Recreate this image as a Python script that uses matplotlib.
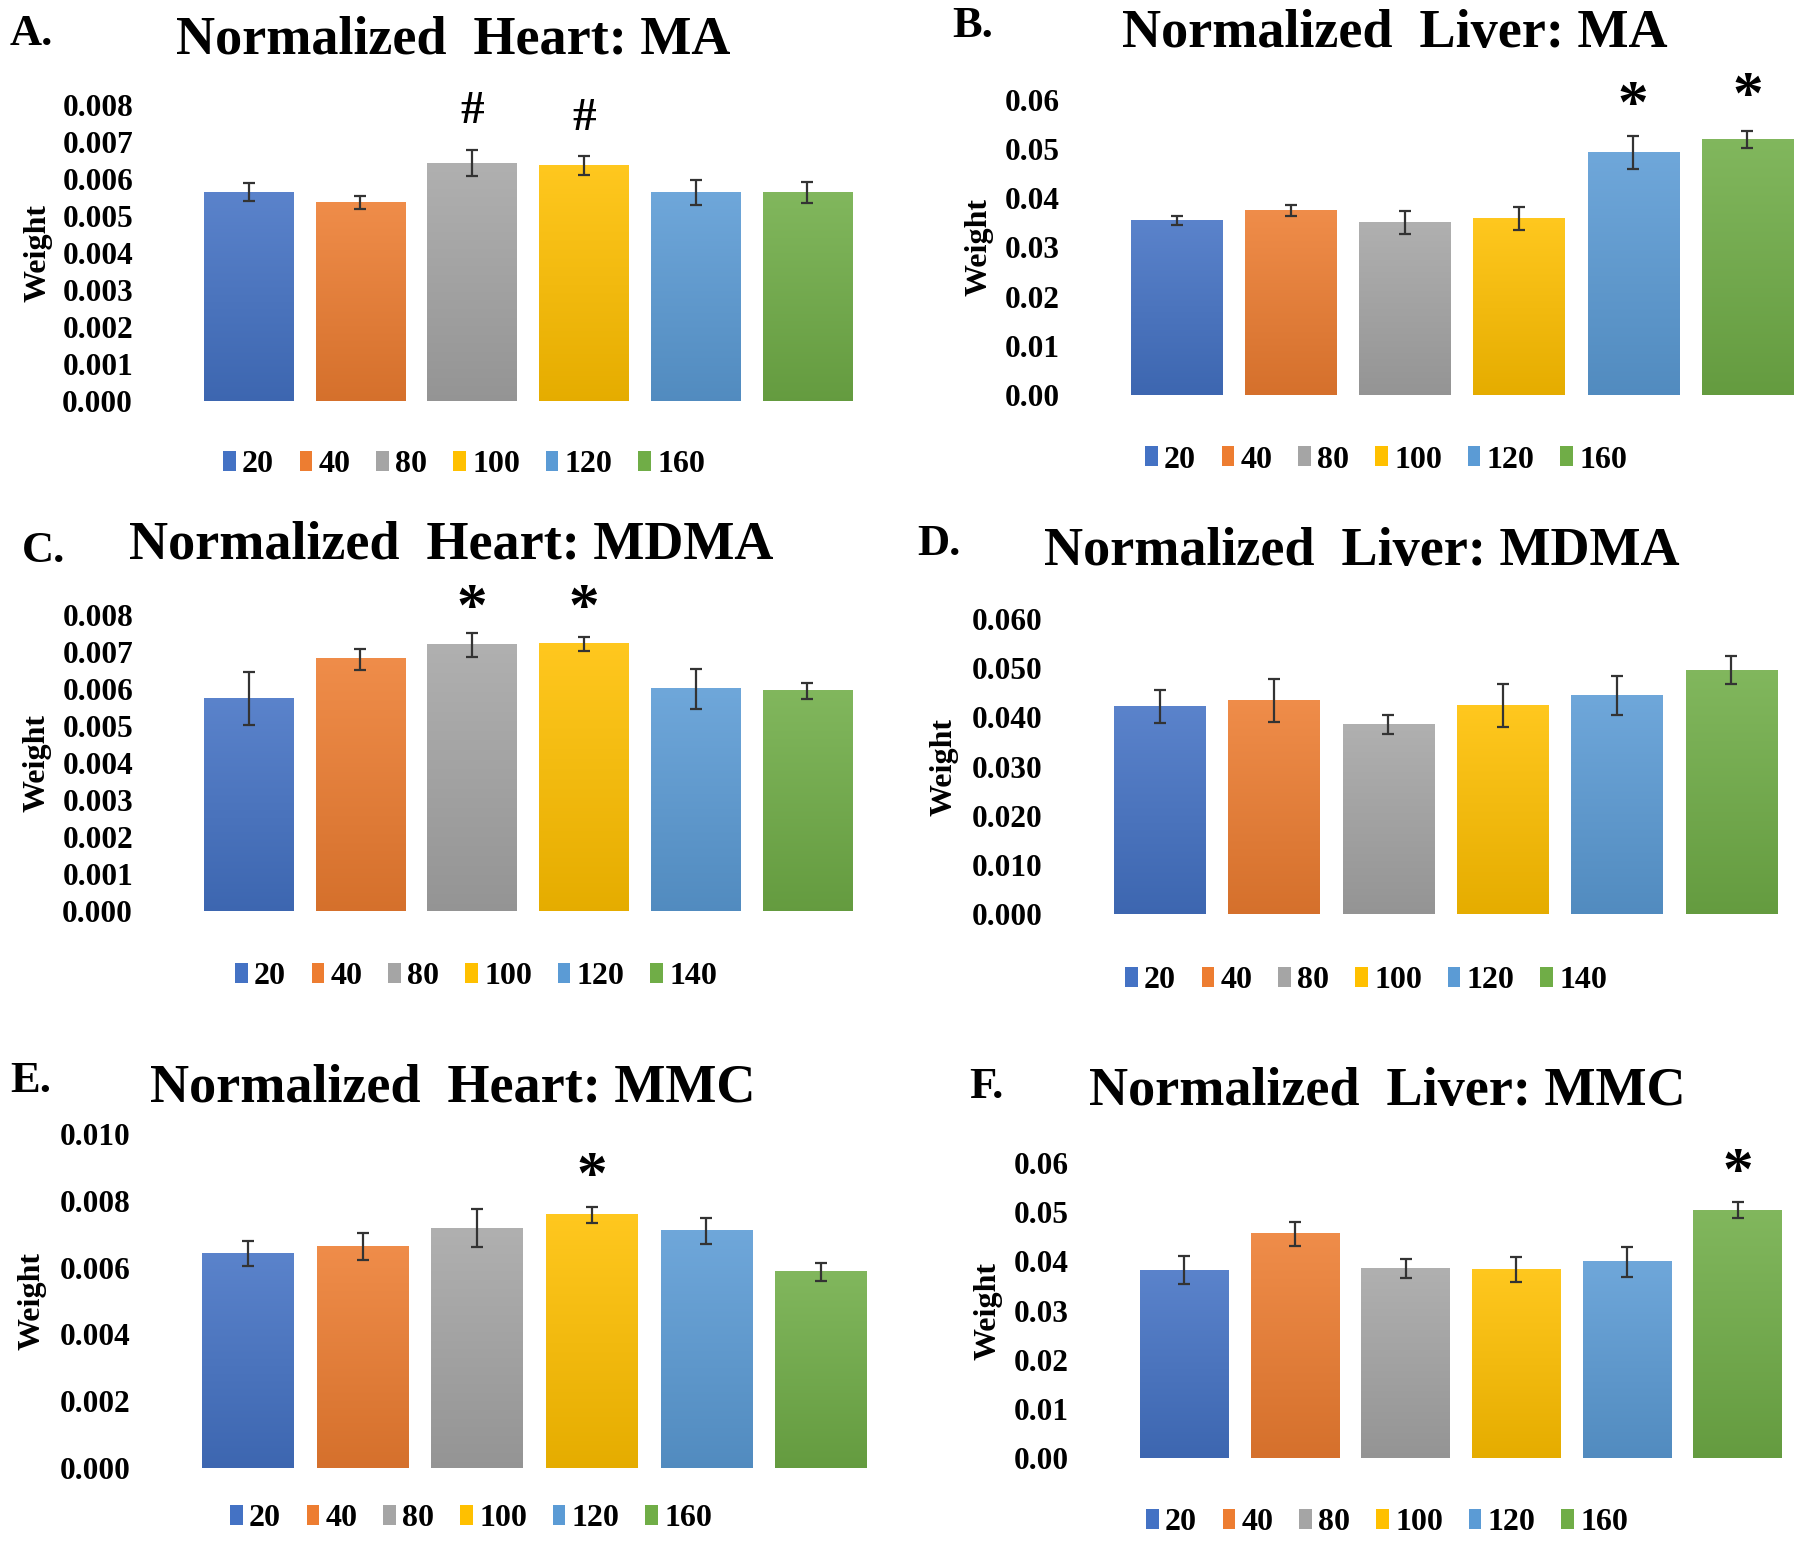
import matplotlib
matplotlib.use('Agg')
import matplotlib.pyplot as plt
from matplotlib.patches import Patch
import matplotlib.colors as mcolors
import numpy as np

plt.rcParams['font.family'] = ['Liberation Serif', 'DejaVu Serif']
plt.rcParams['font.weight'] = 'bold'

# doses (legend labels)
doses_160 = ['20', '40', '80', '100', '120', '160']
doses_140 = ['20', '40', '80', '100', '120', '140']

# values
heart_ma = [0.00563, 0.00535, 0.00642, 0.00635, 0.00563, 0.00563]
heart_ma_err = [0.00024, 0.00018, 0.00035, 0.00025, 0.00033, 0.00029]
liver_ma = [0.0355, 0.0376, 0.0351, 0.0359, 0.0493, 0.0519]
liver_ma_err = [0.0009, 0.0011, 0.0023, 0.0024, 0.0033, 0.0017]
heart_mdma = [0.00574, 0.00680, 0.00720, 0.00721, 0.00601, 0.00595]
heart_mdma_err = [0.00071, 0.00029, 0.00032, 0.00019, 0.00054, 0.00022]
liver_mdma = [0.0422, 0.0434, 0.0386, 0.0424, 0.0444, 0.0496]
liver_mdma_err = [0.0033, 0.0043, 0.0019, 0.0043, 0.0040, 0.0029]
heart_mmc = [0.00642, 0.00663, 0.00718, 0.00758, 0.00710, 0.00587]
heart_mmc_err = [0.00037, 0.00040, 0.00056, 0.00024, 0.00040, 0.00027]
liver_mmc = [0.0382, 0.0456, 0.0386, 0.0383, 0.0399, 0.0504]
liver_mmc_err = [0.0029, 0.0024, 0.0019, 0.0026, 0.0030, 0.0016]

# significance marks: (bar index, symbol, y value)
marks_heart_ma = [(2, '#', 0.0078), (3, '#', 0.00762)]
marks_liver_ma = [(4, '*', 0.0586), (5, '*', 0.0604)]
marks_heart_mdma = [(2, '*', 0.00814), (3, '*', 0.00814)]
marks_liver_mdma = []
marks_heart_mmc = [(3, '*', 0.00868)]
marks_liver_mmc = [(5, '*', 0.0578)]

colors = ['#4472C4', '#ED7D31', '#A5A5A5', '#FFC000', '#5B9BD5', '#70AD47']

W, H = 1800, 1544
fig = plt.figure(figsize=(W / 100, H / 100), dpi=100)

# panel layout in pixels: bars left/right, axis bottom, top tick y, etc.
panels = [
    dict(letter='A.', title='Normalized  Heart: MA', vals=heart_ma, err=heart_ma_err,
         marks=marks_heart_ma, doses=doses_160, ticks=np.arange(0, 0.0081, 0.001), fmt='{:.3f}',
         bl=204, br=852, bot=401, top=104.5, tx=453, ty=40, lx=10, ly=34, leg=(464, 465), wx=38),
    dict(letter='B.', title='Normalized  Liver: MA', vals=liver_ma, err=liver_ma_err,
         marks=marks_liver_ma, doses=doses_160, ticks=np.arange(0, 0.061, 0.01), fmt='{:.2f}',
         bl=1131, br=1793, bot=395, top=100, tx=1395, ty=34, lx=952, ly=26, leg=(1386, 460), wx=979),
    dict(letter='C.', title='Normalized  Heart: MDMA', vals=heart_mdma, err=heart_mdma_err,
         marks=marks_heart_mdma, doses=doses_140, ticks=np.arange(0, 0.0081, 0.001), fmt='{:.3f}',
         bl=204, br=852, bot=911.5, top=615, tx=451, ty=546, lx=22, ly=551, leg=(476, 977), wx=37),
    dict(letter='D.', title='Normalized  Liver: MDMA', vals=liver_mdma, err=liver_mdma_err,
         marks=marks_liver_mdma, doses=doses_140, ticks=np.arange(0, 0.061, 0.01), fmt='{:.3f}',
         bl=1114, br=1777, bot=914, top=619, tx=1362, ty=552, lx=917, ly=544, leg=(1366, 981), wx=944),
    dict(letter='E.', title='Normalized  Heart: MMC', vals=heart_mmc, err=heart_mmc_err,
         marks=marks_heart_mmc, doses=doses_160, ticks=np.arange(0, 0.0101, 0.002), fmt='{:.3f}',
         bl=202, br=867, bot=1468, top=1134, tx=453, ty=1089, lx=10, ly=1081, leg=(471, 1519), wx=32),
    dict(letter='F.', title='Normalized  Liver: MMC', vals=liver_mmc, err=liver_mmc_err,
         marks=marks_liver_mmc, doses=doses_160, ticks=np.arange(0, 0.061, 0.01), fmt='{:.2f}',
         bl=1140, br=1782, bot=1458, top=1163, tx=1387, ty=1092, lx=969, ly=1087, leg=(1387, 1523), wx=988),
]


def gradient(c, n=64):
    rgb = np.array(mcolors.to_rgb(c))
    top = rgb + (1 - rgb) * 0.12
    bottom = rgb * 0.9
    t = np.linspace(0, 1, n)[:, None]
    return (top * (1 - t) + bottom * t)[:, None, :]


for p in panels:
    unit = (p['br'] - p['bl']) / 5.8
    left = p['bl'] - 0.1 * unit
    right = p['br'] + 0.1 * unit
    ax = fig.add_axes([left / W, 1 - p['bot'] / H, (right - left) / W, (p['bot'] - p['top']) / H])
    x = np.arange(len(p['vals']))
    for i, (v, c) in enumerate(zip(p['vals'], colors)):
        ax.imshow(gradient(c), extent=(i - 0.4, i + 0.4, 0, v), aspect='auto',
                  interpolation='bilinear', zorder=1)
    ax.errorbar(x, p['vals'], yerr=p['err'], fmt='none', ecolor='#333333',
                elinewidth=1.6, capsize=4.5, capthick=1.6, zorder=3)
    for i, sym, yv in p['marks']:
        ax.text(i, yv, sym, ha='center', va='center', fontsize=44 if sym == '*' else 34,
                fontweight='bold', clip_on=False)
    ax.set_xlim(-0.5, 5.5)
    ax.set_ylim(0, p['ticks'][-1])
    ax.set_yticks(p['ticks'])
    ax.set_yticklabels([p['fmt'].format(t) for t in p['ticks']], fontsize=22.5, fontweight='bold')
    ax.set_xticks([])
    ax.tick_params(axis='y', length=0, pad=43)
    for s in ax.spines.values():
        s.set_visible(False)
    ax.patch.set_alpha(0)

    fig.text(p['wx'] / W, 1 - (p['bot'] + p['top']) / 2 / H, 'Weight', rotation=90,
             ha='center', va='center', fontsize=23, fontweight='bold')
    fig.text(p['tx'] / W, 1 - p['ty'] / H, p['title'], ha='center', va='center',
             fontsize=39, fontweight='bold')
    fig.text(p['lx'] / W, 1 - p['ly'] / H, p['letter'], ha='left', va='center',
             fontsize=32, fontweight='bold')

    handles = [Patch(facecolor=c, edgecolor='none') for c in colors]
    ax.legend(handles, p['doses'], loc='center', ncol=6, frameon=False,
              bbox_to_anchor=(p['leg'][0] / W, 1 - p['leg'][1] / H), bbox_transform=fig.transFigure,
              fontsize=23, handlelength=0.4, handleheight=0.6, handletextpad=0.2,
              columnspacing=0.8, borderpad=0)

fig.savefig('out.png', dpi=100)
